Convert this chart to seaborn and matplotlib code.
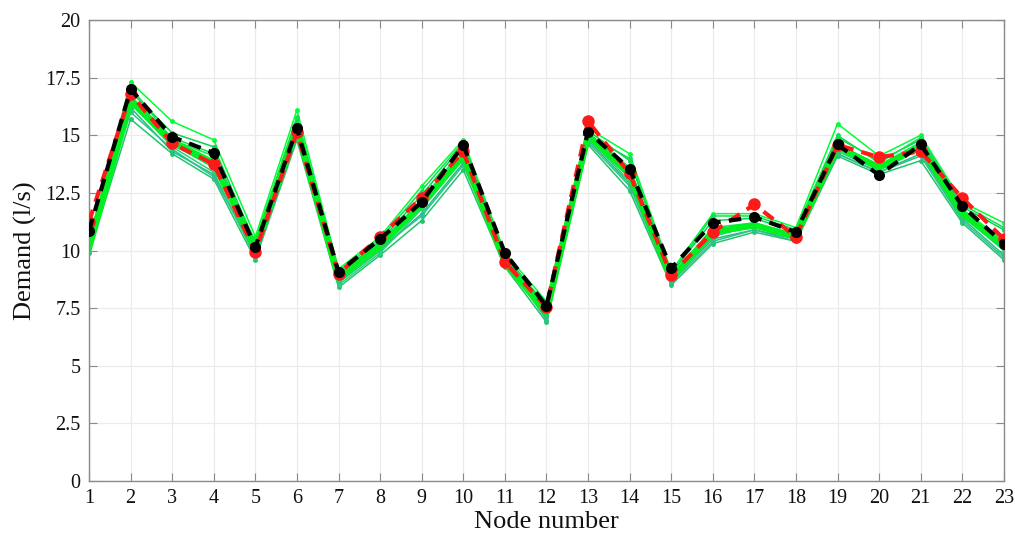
import numpy as np
import pandas as pd
import matplotlib
matplotlib.use("Agg")
import matplotlib.pyplot as plt
import seaborn as sns

nodes = list(range(1, 24))

# Measured demand per node (l/s)
measured = [10.85, 17.0, 14.93, 14.23, 10.15, 15.3, 9.07, 10.5, 12.1, 14.58, 9.9, 7.6,
            15.15, 13.55, 9.23, 11.2, 11.45, 10.8, 14.6, 13.27, 14.6, 11.93, 10.3]

# Estimated demand per node (l/s)
estimated = [11.25, 16.8, 14.65, 13.75, 9.95, 15.13, 9.0, 10.6, 12.3, 14.3, 9.5, 7.55,
             15.6, 13.35, 8.95, 10.8, 12.0, 10.6, 14.58, 14.05, 14.3, 12.28, 10.5]

# Individual calibration runs
run_a = [10.1, 16.6, 14.6, 13.6, 10.0, 15.4, 8.8, 10.2, 11.9, 14.2, 9.6, 7.3, 15.0, 13.2, 8.9, 10.7, 11.0, 10.6, 14.4, 13.6, 14.5, 11.7, 10.1]
run_b = [9.9, 15.7, 14.2, 13.1, 9.6, 14.8, 8.4, 9.8, 11.3, 13.5, 9.3, 6.9, 14.6, 12.6, 8.5, 10.3, 10.8, 10.4, 14.1, 13.3, 13.9, 11.2, 9.6]
run_c = [10.4, 17.3, 15.6, 14.8, 10.6, 16.1, 9.2, 10.6, 12.8, 14.8, 9.9, 7.8, 15.3, 14.2, 9.1, 11.6, 11.6, 11.0, 15.5, 14.1, 15.0, 12.1, 11.2]
run_d = [10.2, 16.2, 14.3, 13.3, 9.8, 15.0, 8.6, 10.0, 11.6, 13.8, 9.5, 7.1, 14.8, 12.9, 8.7, 10.5, 10.9, 10.5, 14.2, 13.4, 14.2, 11.4, 9.8]
run_e = [10.3, 16.9, 15.1, 14.5, 10.3, 15.7, 9.0, 10.4, 12.4, 14.6, 9.8, 7.6, 15.2, 13.9, 9.0, 11.3, 11.4, 10.8, 14.9, 13.9, 14.8, 11.9, 10.9]
run_f = [10.0, 16.4, 14.5, 13.4, 9.7, 15.2, 8.5, 9.9, 11.8, 14.0, 9.4, 7.2, 14.9, 13.0, 8.6, 10.6, 11.1, 10.5, 14.3, 13.5, 14.4, 11.5, 10.0]
run_g = [10.5, 17.1, 14.8, 14.1, 10.2, 15.5, 8.9, 10.3, 12.2, 14.4, 9.7, 7.4, 15.1, 13.6, 8.8, 11.0, 11.2, 10.7, 14.6, 13.7, 14.7, 11.8, 10.4]
run_h = [10.2, 16.0, 14.4, 13.2, 9.9, 14.9, 8.7, 10.1, 11.5, 13.7, 9.6, 7.0, 14.7, 12.8, 8.6, 10.4, 10.9, 10.4, 14.2, 13.4, 14.1, 11.3, 9.7]
run_i = [10.3, 16.7, 14.9, 14.2, 10.4, 15.8, 9.1, 10.5, 12.6, 14.7, 9.8, 7.5, 15.0, 14.0, 9.0, 11.5, 11.5, 10.9, 15.0, 13.8, 14.9, 12.0, 11.0]
run_j = [10.1, 16.5, 14.7, 13.8, 10.1, 15.3, 8.8, 10.2, 12.0, 14.1, 9.5, 7.3, 15.0, 13.3, 8.8, 10.8, 11.1, 10.6, 14.5, 13.6, 14.5, 11.6, 10.2]

runs = [run_a, run_b, run_c, run_d, run_e, run_f, run_g, run_h, run_i, run_j]
run_colors = ["#00e640", "#22c46a", "#00ff33", "#1fbf80", "#00d84a", "#2ad07a",
              "#00f040", "#30c090", "#10e050", "#00ee00"]

y_ticks = [0, 2.5, 5, 7.5, 10, 12.5, 15, 17.5, 20]
y_tick_labels = ["0", "2.5", "5", "7.5", "10", "12.5", "15", "17.5", "20"]

sns.set_theme(style="white")
plt.rcParams["font.family"] = ["Liberation Serif", "DejaVu Serif"]

fig = plt.figure(figsize=(10.15, 5.4), dpi=100)
ax = fig.add_axes([0.0877, 0.109, 0.9013, 0.854])

for vals, col in zip(runs, run_colors):
    df = pd.DataFrame({"node": nodes, "demand": vals})
    sns.lineplot(data=df, x="node", y="demand", ax=ax, color=col, linewidth=1.1,
                 marker="o", markersize=3.5, markeredgewidth=0, zorder=2)

# Thick band for the central run
df_c = pd.DataFrame({"node": nodes, "demand": run_j})
sns.lineplot(data=df_c, x="node", y="demand", ax=ax, color="#00f020", linewidth=4.5, zorder=2.5)

df_est = pd.DataFrame({"node": nodes, "demand": estimated})
sns.lineplot(data=df_est, x="node", y="demand", ax=ax, color="#ff1a1a", linewidth=3.0,
             linestyle=(0, (3, 2)), marker="o", markersize=9, markeredgewidth=0, zorder=3)

df_meas = pd.DataFrame({"node": nodes, "demand": measured})
sns.lineplot(data=df_meas, x="node", y="demand", ax=ax, color="black", linewidth=3.0,
             linestyle=(0, (3, 2)), marker="o", markersize=8, markeredgewidth=0, zorder=4)

ax.set_xlim(1, 23)
ax.set_ylim(0, 20)
ax.set_xticks(nodes)
ax.set_xticklabels([str(n) for n in nodes])
ax.set_yticks(y_ticks)
ax.set_yticklabels(y_tick_labels)
ax.grid(True, color="#ebebeb", linewidth=0.9)
ax.set_axisbelow(True)

for s in ax.spines.values():
    s.set_visible(True)
    s.set_color("#8a8a8a")
    s.set_linewidth(1.0)

ax.tick_params(axis="both", which="both", direction="in", length=6, width=0.8,
               color="#8a8a8a", labelsize=14.5, labelcolor="#111111",
               top=True, right=True, bottom=True, left=True, pad=6)

ax.set_xlabel("Node number", fontsize=19, color="#111111", labelpad=2)
ax.set_ylabel("Demand (l/s)", fontsize=19, color="#111111", labelpad=6)

fig.savefig("out.png", dpi=100, facecolor="white")
